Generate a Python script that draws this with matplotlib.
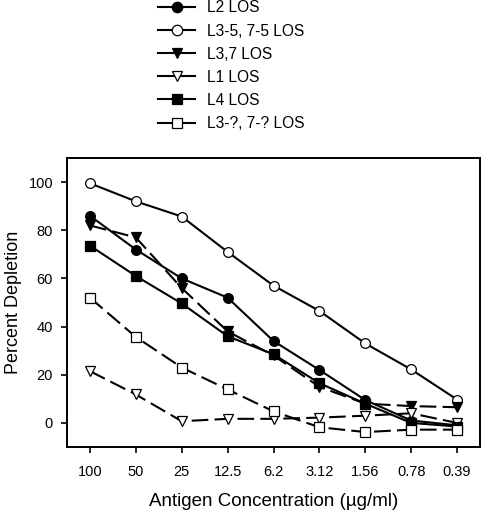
import matplotlib
matplotlib.use("Agg")
import matplotlib.pyplot as plt
from matplotlib.lines import Line2D

plt.rcParams['font.family'] = ['Liberation Sans', 'DejaVu Sans']

concentrations = ["100", "50", "25", "12.5", "6.2", "3.12", "1.56", "0.78", "0.39"]

l2 = [86, 72, 60, 52, 34, 22, 9.5, 1, -1]
l35 = [99.5, 92, 85.7, 71, 57, 46.5, 33, 22.2, 9.7]
l37 = [82, 77, 56, 38, 28, 15, 8, 7, 6.5]
l1 = [21.5, 11.8, 0.7, 1.7, 1.7, 2.2, 3, 4, 0]
l4 = [73.6, 61, 49.6, 36, 28.5, 16.5, 8, 0, -1.5]
l3q = [52, 35.7, 23, 13.9, 4.8, -1.8, -3.8, -2.8, -2.8]

series = [
    ("L2 LOS", l2, 'o', 'black', '-'),
    ("L3-5, 7-5 LOS", l35, 'o', 'white', '-'),
    ("L3,7 LOS", l37, 'v', 'black', (0, (8, 3))),
    ("L1 LOS", l1, 'v', 'white', (0, (8, 3))),
    ("L4 LOS", l4, 's', 'black', '-'),
    ("L3-?, 7-? LOS", l3q, 's', 'white', (0, (8, 3))),
]

fig = plt.figure(figsize=(4.82, 5.14), dpi=100)
ax = fig.add_axes([67 / 482, 1 - 447 / 514, 413 / 482, 289 / 514])

x = list(range(len(concentrations)))
handles = []
for label, vals, mk, fc, ls in series:
    ax.plot(x, vals, linestyle=ls, color='black', linewidth=1.5,
            marker=mk, markersize=7, markerfacecolor=fc,
            markeredgecolor='black', markeredgewidth=0.9)
    handles.append(Line2D([0], [0], linestyle='-', color='black', linewidth=1.5,
                          marker=mk, markersize=7.5, markerfacecolor=fc,
                          markeredgecolor='black', markeredgewidth=0.9))

ax.set_xlim(-0.5, 8.5)
ax.set_ylim(-10, 110)
ax.set_xticks(x)
ax.set_xticklabels(concentrations, fontsize=10.5)
ax.set_yticks([0, 20, 40, 60, 80, 100])
ax.tick_params(axis='both', direction='out', length=4, width=1.2, labelsize=10.5)
ax.tick_params(axis='x', pad=9)
ax.tick_params(axis='y', pad=6)
for sp in ax.spines.values():
    sp.set_linewidth(1.4)

ax.set_xlabel("Antigen Concentration (\u00b5g/ml)", fontsize=13.5, labelpad=10)
ax.set_ylabel("Percent Depletion", fontsize=13, labelpad=5)

fig.legend(handles, [s[0] for s in series], loc='upper left',
           bbox_to_anchor=(158 / 482, 1 - 0.5 / 514), frameon=False,
           fontsize=11.2, handlelength=2.4, handletextpad=0.75,
           labelspacing=0.52, borderpad=0.0, borderaxespad=0.0)

fig.savefig("out.png", dpi=100)
